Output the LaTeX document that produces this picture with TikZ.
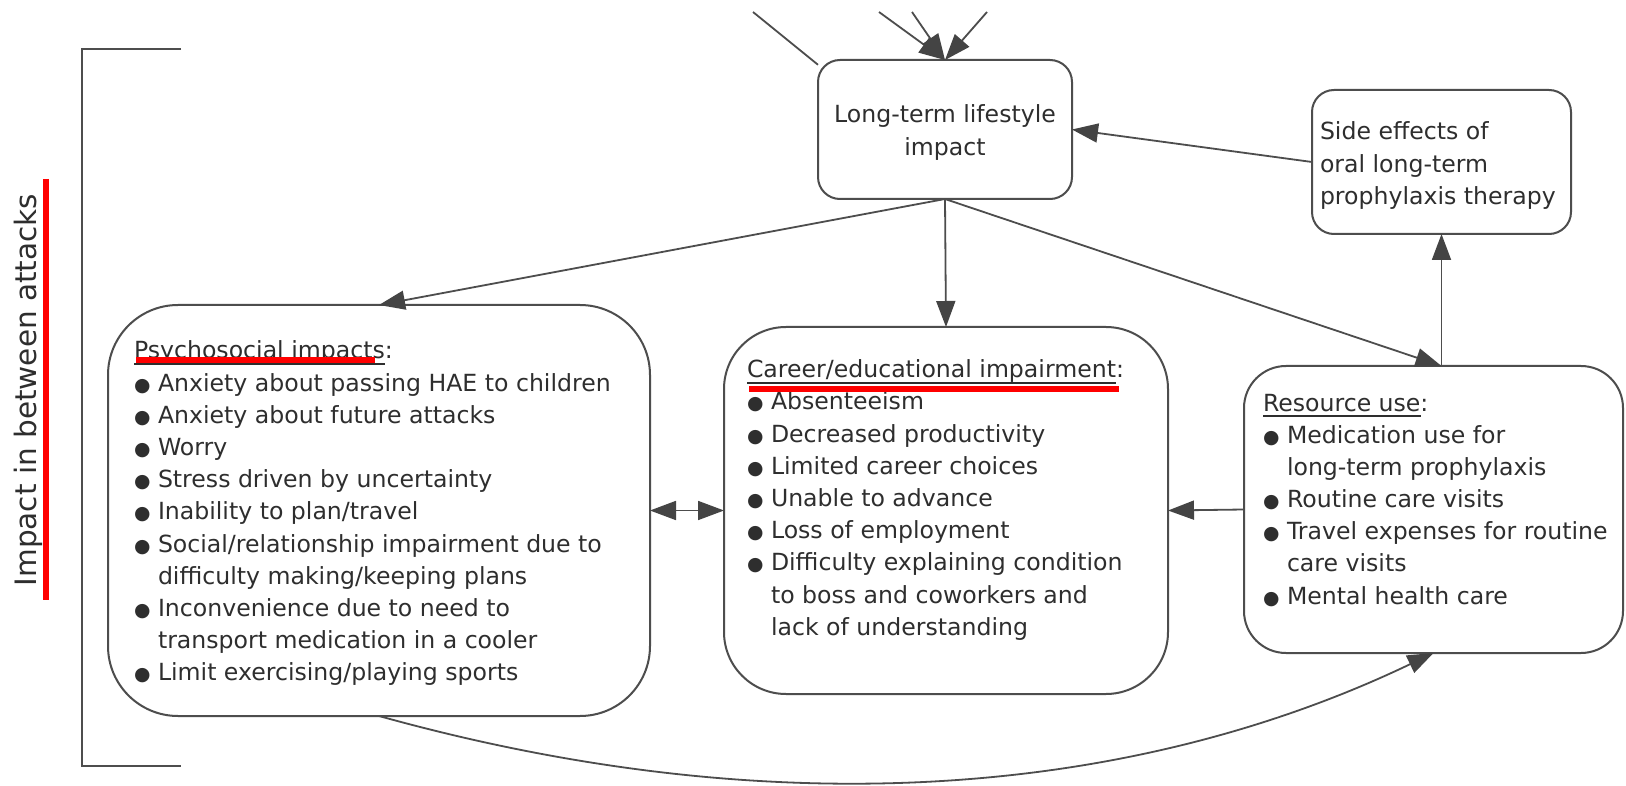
\documentclass[tikz,border=0pt]{standalone}
\usepackage{fontspec}
\setmainfont{DejaVu Sans}
\usetikzlibrary{arrows.meta}
\definecolor{ln}{HTML}{4D4D4D}
\definecolor{tx}{HTML}{2E2E2E}
\definecolor{ah}{HTML}{444444}
\definecolor{rd}{HTML}{FF0000}
\newcommand\blt{\makebox[24pt][l]{\scalebox{0.8}{●}}}
\newcommand\ind{\hspace*{24pt}}
\newcommand\ulx[1]{\leavevmode\setbox0=\hbox{#1}\rlap{\rule[-6pt]{\wd0}{1.6pt}}\box0}
\newcommand\tb[2]{\parbox[t]{#1}{\raggedright #2}}
\tikzset{
  box/.style={draw=ln, line width=2pt, fill=white, inner sep=0pt, outer sep=0pt, rectangle},
  txt/.style={inner sep=0pt, outer sep=0pt, text=tx, font=\fontsize{23.6}{32.2}\selectfont},
  arr/.style={draw=ln, line width=1.8pt, -{Triangle[length=26pt,width=19pt,color=ah]}},
  dbl/.style={draw=ln, line width=1.8pt, {Triangle[length=26pt,width=19pt,color=ah]}-{Triangle[length=26pt,width=19pt,color=ah]}},
  plain/.style={draw=ln, line width=1.8pt},
  redmark/.style={draw=rd, line width=6pt},
}
\begin{document}
\begin{tikzpicture}[x=1pt,y=-1pt]
\fill[white] (0,0) rectangle (1626,786);
\useasboundingbox (0,0) rectangle (1626,786);

% boxes
\node[box, minimum width=254pt, minimum height=139pt, rounded corners=22pt] (lt) at (945,129.5) {};
\node[box, minimum width=259pt, minimum height=144pt, rounded corners=22pt] (side) at (1441.5,162) {};
\node[box, minimum width=542pt, minimum height=411pt, rounded corners=70pt] (psych) at (379,510.5) {};
\node[box, minimum width=444pt, minimum height=367pt, rounded corners=62pt] (career) at (946,510.5) {};
\node[box, minimum width=379pt, minimum height=287pt, rounded corners=42pt] (res) at (1433.5,509.5) {};

% texts
\node[txt, anchor=base] (ltt) at (945,123) {\tb{300pt}{\centering Long-term lifestyle\\impact}};
\node[txt, anchor=base west] (sidet) at (1320,140) {\tb{250pt}{Side effects of\\oral long-term\\prophylaxis therapy}};
\node[txt, anchor=base west] (psycht) at (134,359) {\tb{500pt}{\ulx{Psychosocial impacts}:\\
\blt Anxiety about passing HAE to children\\
\blt Anxiety about future attacks\\
\blt Worry\\
\blt Stress driven by uncertainty\\
\blt Inability to plan/travel\\
\blt Social/relationship impairment due to\\
\ind difficulty making/keeping plans\\
\blt Inconvenience due to need to\\
\ind transport medication in a cooler\\
\blt Limit exercising/playing sports}};
\node[txt, anchor=base west] (careert) at (747,377.8) {\tb{420pt}{\ulx{Career/educational impairment}:\\
\blt Absenteeism\\
\blt Decreased productivity\\
\blt Limited career choices\\
\blt Unable to advance\\
\blt Loss of employment\\
\blt Difficulty explaining condition\\
\ind to boss and coworkers and\\
\ind lack of understanding}};
\node[txt, anchor=base west] (rest) at (1263,411) {\tb{350pt}{\ulx{Resource use}:\\
\blt Medication use for\\
\ind long-term prophylaxis\\
\blt Routine care visits\\
\blt Travel expenses for routine\\
\ind care visits\\
\blt Mental health care}};

% side label and bracket
\node[inner sep=0pt, text=tx, rotate=90, anchor=base, font=\fontsize{29.5}{36}\selectfont] (lab) at (36,390) {Impact in between attacks};
\coordinate (b1) at (181,49);
\coordinate (b2) at (82,49);
\coordinate (b3) at (82,766);
\coordinate (b4) at (181,766);
\draw[plain] (b1) -- (b2) -- (b3) -- (b4);

% incoming lines from above
\coordinate (t1) at (753,12);
\coordinate (t2) at (879,12);
\coordinate (t3) at (912,12);
\coordinate (t4) at (987,12);
\draw[plain] (t1) -- (lt.153);
\draw[arr] (t2) -- (lt.north);
\draw[arr] (t3) -- (lt.north);
\draw[arr] (t4) -- (lt.north);

% connectors
\coordinate (rtop) at (side.south |- res.north);
\draw[arr] (side.west) -- (lt.east);
\draw[arr] (lt.south) -- (psych.north);
\draw[arr] (lt.south) -- (career.north);
\draw[arr] (lt.south) -- (rtop);
\draw[arr] (rtop) -- (side.south);
\draw[dbl] (psych.east) -- (career.west);
\draw[arr] (res.west) -- (career.east);
\draw[arr] (psych.south) .. controls (785,829) and (1141,793) .. (res.south);

% red marks
\draw[redmark] (136,360) -- (375,360);
\draw[redmark] (749,389.5) -- (1119,389.5);
\draw[redmark] (46,179) -- (46,600);
\end{tikzpicture}
\end{document}
